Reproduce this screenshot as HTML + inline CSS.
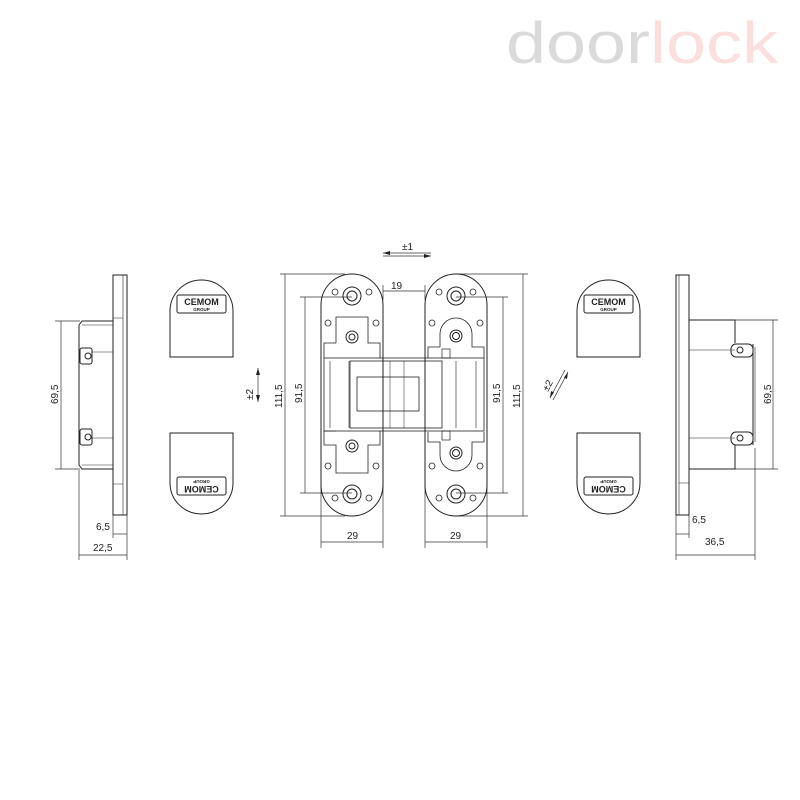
<!DOCTYPE html>
<html><head><style>html,body{margin:0;padding:0;background:#fff}svg{display:block}</style></head><body>
<svg width="800" height="800" viewBox="0 0 800 800" xmlns="http://www.w3.org/2000/svg" font-family="Liberation Sans, sans-serif">
<text x="506" y="63" font-size="58" textLength="272" lengthAdjust="spacingAndGlyphs"><tspan fill="#dadada">door</tspan><tspan fill="#fbdede">lock</tspan></text>

<g fill="none" stroke="#222" stroke-width="1">
<!-- LEFT SIDE VIEW -->
<rect x="113" y="275" width="14" height="240"/>
<line x1="123" y1="275" x2="123" y2="515" stroke-width="0.6"/>
<line x1="113" y1="318" x2="123" y2="318" stroke-width="0.5"/>
<line x1="113" y1="484" x2="123" y2="484" stroke-width="0.5"/>
<path d="M113 321 H82 L79 325 V465 L82 469 H113"/>
<path d="M82 325 H113 M82 465 H113" stroke-width="0.6"/>
<rect x="80" y="348" width="12" height="16" rx="2"/><circle cx="88" cy="356" r="3"/>
<rect x="80" y="429" width="12" height="16" rx="2"/><circle cx="88" cy="437" r="3"/>
<line x1="92" y1="352" x2="113" y2="352" stroke-width="0.5"/>
<line x1="92" y1="438" x2="113" y2="438" stroke-width="0.5"/>
</g>
<g stroke="#333" stroke-width="0.7" fill="none">
<line x1="55" y1="321" x2="80" y2="321"/><line x1="55" y1="469" x2="80" y2="469"/>
<line x1="61" y1="321" x2="61" y2="469"/>
<line x1="79" y1="470" x2="79" y2="560"/><line x1="127" y1="515" x2="127" y2="560"/><line x1="113" y1="515" x2="113" y2="538"/>
<line x1="113" y1="534" x2="127" y2="534"/><line x1="79" y1="555" x2="127" y2="555"/>
<!-- right side dims -->
<line x1="735" y1="320" x2="778" y2="320"/><line x1="735" y1="469" x2="778" y2="469"/>
<line x1="773" y1="320" x2="773" y2="469"/>
<line x1="676" y1="515" x2="676" y2="560"/><line x1="689" y1="515" x2="689" y2="538"/><line x1="755" y1="448" x2="755" y2="560"/>
<line x1="676" y1="534" x2="689" y2="534"/><line x1="676" y1="555" x2="755" y2="555"/>
<!-- center dims -->
<line x1="280" y1="274" x2="345" y2="274"/><line x1="280" y1="516" x2="345" y2="516"/>
<line x1="285" y1="274" x2="285" y2="516"/>
<line x1="300" y1="297" x2="352" y2="297"/><line x1="300" y1="493" x2="352" y2="493"/>
<line x1="305" y1="297" x2="305" y2="493"/>
<line x1="456" y1="274" x2="528" y2="274"/><line x1="456" y1="516" x2="528" y2="516"/>
<line x1="523" y1="274" x2="523" y2="516"/>
<line x1="456" y1="297" x2="508" y2="297"/><line x1="456" y1="493" x2="508" y2="493"/>
<line x1="503" y1="297" x2="503" y2="493"/>
<line x1="321" y1="440" x2="321" y2="548"/><line x1="383" y1="440" x2="383" y2="548"/>
<line x1="425" y1="440" x2="425" y2="548"/><line x1="487" y1="440" x2="487" y2="548"/>
<line x1="321" y1="542" x2="383" y2="542"/><line x1="425" y1="542" x2="487" y2="542"/>
<line x1="383" y1="291" x2="425" y2="291"/>
<line x1="383" y1="285" x2="383" y2="300"/><line x1="425" y1="285" x2="425" y2="300"/>
<line x1="383" y1="253" x2="431" y2="253"/><line x1="383" y1="256" x2="431" y2="256"/>
<line x1="258" y1="368" x2="258" y2="402"/>
<line x1="553" y1="400" x2="568" y2="372"/>
<line x1="550" y1="398" x2="565" y2="370"/>
</g>
<g fill="#222">
<path d="M383 253 l7 -2 v4z M431 256 l-7 -2 v4z M258 368 l-2 7 h4z M258 402 l-2 -7 h4z"/>
<path d="M568 372 l-1 7 -3 -1.5z M550 398 l1 -7 3 1.5z"/>
</g>
<g font-size="10" fill="#222">
<text x="402" y="250">±1</text>
<text x="391" y="289">19</text>
<text x="347" y="539">29</text>
<text x="450" y="539">29</text>
<text x="96" y="530">6,5</text>
<text x="93" y="551">22,5</text>
<text x="692" y="523">6,5</text>
<text x="705" y="545">36,5</text>
<text transform="translate(58,404) rotate(-90)">69,5</text>
<text transform="translate(771,404) rotate(-90)">69,5</text>
<text transform="translate(282,408) rotate(-90)">111,5</text>
<text transform="translate(302,403) rotate(-90)">91,5</text>
<text transform="translate(500,403) rotate(-90)">91,5</text>
<text transform="translate(520,408) rotate(-90)">111,5</text>
<text transform="translate(253,400) rotate(-90)">±2</text>
<text transform="translate(548,392) rotate(-62)">±2</text>
</g>

<!-- CAPS -->
<g fill="none" stroke="#222" stroke-width="1">
<path d="M170 357 V311 A31.5 31 0 0 1 233 311 V357 Z"/>
<rect x="177" y="295" width="49" height="18" rx="2"/>
<path d="M170 433 V483 A31.5 31 0 0 0 233 483 V433 Z"/>
<rect x="177" y="477" width="49" height="18" rx="2"/>
<path d="M577 357 V311 A31.5 31 0 0 1 640 311 V357 Z"/>
<rect x="584" y="295" width="49" height="18" rx="2"/>
<path d="M577 433 V483 A31.5 31 0 0 0 640 483 V433 Z"/>
<rect x="584" y="477" width="49" height="18" rx="2"/>
</g>
<g font-weight="bold" fill="#222" text-anchor="middle">
<text x="201.5" y="305" font-size="9">CEMOM</text><text x="201.5" y="311" font-size="4.5">GROUP</text>
<text x="608.5" y="305" font-size="9">CEMOM</text><text x="608.5" y="311" font-size="4.5">GROUP</text>
<g transform="rotate(180 201.5 486)"><text x="201.5" y="486" font-size="9">CEMOM</text><text x="201.5" y="492" font-size="4.5">GROUP</text></g>
<g transform="rotate(180 608.5 486)"><text x="608.5" y="486" font-size="9">CEMOM</text><text x="608.5" y="492" font-size="4.5">GROUP</text></g>
</g>

<!-- CENTER HINGE -->
<g fill="none" stroke="#222" stroke-width="1">
<path d="M321 305 A31 31 0 0 1 383 305 V485 A31 31 0 0 1 321 485 Z"/>
<path d="M425 305 A31 31 0 0 1 487 305 V485 A31 31 0 0 1 425 485 Z"/>
<!-- holes -->
<g>
<circle cx="352" cy="296" r="9"/><circle cx="352" cy="296" r="5"/>
<circle cx="352" cy="494" r="9"/><circle cx="352" cy="494" r="5"/>
<circle cx="456" cy="296" r="9"/><circle cx="456" cy="296" r="5"/>
<circle cx="456" cy="494" r="9"/><circle cx="456" cy="494" r="5"/>
<circle cx="352" cy="337" r="6"/><circle cx="352" cy="337" r="3"/>
<circle cx="352" cy="446" r="6"/><circle cx="352" cy="446" r="3"/>
<circle cx="456" cy="336" r="6"/><circle cx="456" cy="336" r="3.5"/>
<circle cx="456" cy="453" r="6"/><circle cx="456" cy="453" r="3.5"/>
</g>
<g stroke-width="0.8">
<circle cx="335" cy="292" r="3"/><circle cx="369" cy="292" r="3"/>
<circle cx="335" cy="498" r="3"/><circle cx="369" cy="498" r="3"/>
<circle cx="439" cy="292" r="3"/><circle cx="473" cy="292" r="3"/>
<circle cx="439" cy="498" r="3"/><circle cx="473" cy="498" r="3"/>
<circle cx="328" cy="323" r="3"/><circle cx="376" cy="323" r="3"/>
<circle cx="328" cy="466" r="3"/><circle cx="376" cy="466" r="3"/>
<circle cx="432" cy="323" r="3"/><circle cx="480" cy="323" r="3"/>
<circle cx="432" cy="466" r="3"/><circle cx="480" cy="466" r="3"/>
</g>
<path d="M336 343 V317 H368 V343 H380 V358 M336 343 H324 V358" stroke-width="0.8"/>
<path d="M336 431 H324 V445 H336 V473 H368 V445 H380 V431" stroke-width="0.8"/>
<path d="M440 347 V334 A16 16 0 0 1 472 334 V347 H484 V358 M440 347 H428 V358" stroke-width="0.8"/>
<path d="M428 432 V442 H440 V455 A16 16 0 0 0 472 455 V442 H484 V432" stroke-width="0.8"/>
<rect x="324" y="358" width="160" height="73" stroke-width="0.8"/>
<rect x="350" y="361" width="92" height="67" stroke-width="0.8"/>
<rect x="357" y="377" width="62" height="34" stroke-width="0.8"/>
<line x1="330" y1="361" x2="330" y2="428" stroke-width="0.6"/>
<line x1="349" y1="361" x2="349" y2="428" stroke-width="0.6"/>
<line x1="456" y1="361" x2="456" y2="428" stroke-width="0.6"/>
<line x1="476" y1="361" x2="476" y2="428" stroke-width="0.6"/>
<line x1="390" y1="361" x2="390" y2="428" stroke-width="0.5"/>
<line x1="404" y1="361" x2="404" y2="428" stroke-width="0.5"/>
<rect x="442" y="349" width="8" height="9" stroke-width="0.7"/>
<rect x="442" y="431" width="8" height="9" stroke-width="0.7"/>
</g>

<!-- RIGHT SIDE VIEW -->
<g fill="none" stroke="#222" stroke-width="1">
<rect x="676" y="275" width="13" height="240"/>
<line x1="679" y1="275" x2="679" y2="515" stroke-width="0.6"/>
<line x1="679" y1="483" x2="689" y2="483" stroke-width="0.5"/>
<path d="M689 320 H735 V343 M735 445 V469 H689"/>
<path d="M689 350 H735 M689 438 H735" stroke-width="0.6"/>
<rect x="731" y="344" width="22" height="13" rx="5"/><circle cx="740" cy="350" r="3"/>
<rect x="731" y="432" width="22" height="13" rx="5"/><circle cx="740" cy="438" r="3"/>
<line x1="753" y1="344" x2="753" y2="445"/>
<line x1="755" y1="347" x2="755" y2="442" stroke-width="0.6"/>
</g>
</svg>
</body></html>
